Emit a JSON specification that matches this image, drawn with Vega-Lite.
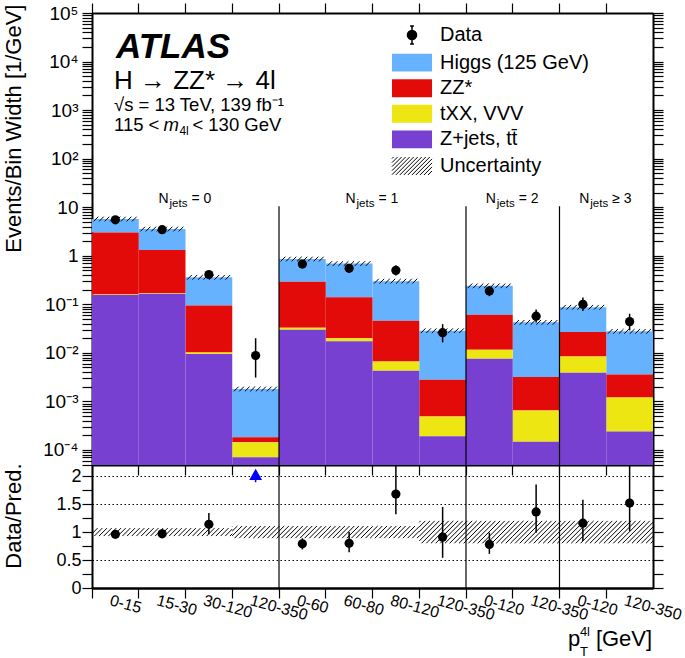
{
  "$schema": "https://vega.github.io/schema/vega-lite/v6.json",
  "padding": {"left": 2, "top": 2, "right": 0, "bottom": 0},
  "autosize": {"type": "pad"},
  "background": "white",
  "spacing": 0,
  "bounds": "flush",
  "config": {
    "font": "Liberation Sans",
    "view": {"stroke": null},
    "axis": {"domain": true, "domainColor": "black", "domainWidth": 2, "grid": false, "ticks": true, "tickColor": "black", "tickWidth": 1.2, "tickSize": 10, "labelFont": "Liberation Sans", "labelColor": "black", "titleFont": "Liberation Sans", "titleColor": "black", "titleFontWeight": "normal", "zindex": 1, "labelOverlap": false, "labelBound": false, "labelFlush": false}
  },
  "resolve": {"scale": {"color": "independent"}},
  "datasets": {
    "bins": [
      {"bin": "0-15|0", "purple": 0.155, "yellow": 0.16, "red": 3.0, "total": 5.7, "data": 5.5, "dlo": 5.25, "dhi": 5.75, "ratio": 0.96, "rlo": 0.91, "rhi": 1.01, "unc": 0.07},
      {"bin": "15-30|0", "purple": 0.165, "yellow": 0.17, "red": 1.31, "total": 3.55, "data": 3.45, "dlo": 3.2, "dhi": 3.7, "ratio": 0.97, "rlo": 0.9, "rhi": 1.05, "unc": 0.07},
      {"bin": "30-120|0", "purple": 0.0095, "yellow": 0.0102, "red": 0.094, "total": 0.36, "data": 0.41, "dlo": 0.35, "dhi": 0.48, "ratio": 1.14, "rlo": 0.96, "rhi": 1.34, "unc": 0.07},
      {"bin": "120-350|0", "purple": 0.000071, "yellow": 0.000144, "red": 0.000182, "total": 0.0018, "data": 0.0088, "dlo": 0.0031, "dhi": 0.02, "ratio": 4.9, "rlo": 1.7, "rhi": 11.1, "unc": 0.11},
      {"bin": "0-60|1", "purple": 0.03, "yellow": 0.033, "red": 0.29, "total": 0.855, "data": 0.675, "dlo": 0.59, "dhi": 0.76, "ratio": 0.79, "rlo": 0.69, "rhi": 0.89, "unc": 0.11},
      {"bin": "60-80|1", "purple": 0.0173, "yellow": 0.02, "red": 0.14, "total": 0.69, "data": 0.55, "dlo": 0.44, "dhi": 0.68, "ratio": 0.8, "rlo": 0.64, "rhi": 1.0, "unc": 0.11},
      {"bin": "80-120|1", "purple": 0.0043, "yellow": 0.0066, "red": 0.046, "total": 0.3, "data": 0.5, "dlo": 0.39, "dhi": 0.64, "ratio": 1.68, "rlo": 1.32, "rhi": 2.25, "unc": 0.11},
      {"bin": "120-350|1", "purple": 0.000192, "yellow": 0.00049, "red": 0.0028, "total": 0.0286, "data": 0.026, "dlo": 0.0164, "dhi": 0.039, "ratio": 0.91, "rlo": 0.54, "rhi": 1.45, "unc": 0.2},
      {"bin": "0-120|2", "purple": 0.0076, "yellow": 0.0116, "red": 0.061, "total": 0.24, "data": 0.188, "dlo": 0.147, "dhi": 0.238, "ratio": 0.78, "rlo": 0.61, "rhi": 0.99, "unc": 0.2},
      {"bin": "120-350|2", "purple": 0.000147, "yellow": 0.00065, "red": 0.0032, "total": 0.0425, "data": 0.057, "dlo": 0.042, "dhi": 0.078, "ratio": 1.36, "rlo": 0.99, "rhi": 1.85, "unc": 0.2},
      {"bin": "0-120|3", "purple": 0.0039, "yellow": 0.0084, "red": 0.027, "total": 0.087, "data": 0.1, "dlo": 0.073, "dhi": 0.138, "ratio": 1.16, "rlo": 0.84, "rhi": 1.58, "unc": 0.2},
      {"bin": "120-350|3", "purple": 0.00024, "yellow": 0.0012, "red": 0.0036, "total": 0.0277, "data": 0.044, "dlo": 0.029, "dhi": 0.064, "ratio": 1.52, "rlo": 1.02, "rhi": 2.3, "unc": 0.2}
    ],
    "seps": [{"bin": "0-60|1"}, {"bin": "0-120|2"}, {"bin": "0-120|3"}],
    "groups": [
      {"center": "30-120|0", "rel": "= 0"},
      {"center": "80-120|1", "rel": "= 1"},
      {"center": "120-350|2", "rel": "= 2"},
      {"center": "120-350|3", "rel": "≥ 3"}
    ]
  },
  "vconcat": [
    {
      "name": "main",
      "width": 561,
      "height": 452,
      "data": {"name": "bins"},
      "resolve": {"axis": {"x": "independent", "y": "independent"}},
      "layer": [
        {
          "mark": {"type": "bar"},
          "encoding": {
            "x": {"field": "bin", "type": "ordinal", "scale": {"domain": ["0-15|0","15-30|0","30-120|0","120-350|0","0-60|1","60-80|1","80-120|1","120-350|1","0-120|2","120-350|2","0-120|3","120-350|3"], "paddingInner": 0, "paddingOuter": 0}, "axis": {"orient": "bottom", "bandPosition": 0, "labels": false, "title": null, "encode": {"ticks": {"y2": {"value": -10}}}}},
            "y": {"field": "total", "type": "quantitative", "scale": {"type": "log", "domain": [0.000049, 100000], "nice": false},
              "axis": {"orient": "left", "values": [0.00005,0.00006,0.00007,0.00008,0.00009,0.0001,0.0002,0.0003,0.0004,0.0005,0.0006,0.0007,0.0008,0.0009,0.001,0.002,0.003,0.004,0.005,0.006,0.007,0.008,0.009,0.01,0.02,0.03,0.04,0.05,0.06,0.07,0.08,0.09,0.1,0.2,0.3,0.4,0.5,0.6,0.7,0.8,0.9,1,2,3,4,5,6,7,8,9,10,20,30,40,50,60,70,80,90,100,200,300,400,500,600,700,800,900,1000,2000,3000,4000,5000,6000,7000,8000,9000,10000,20000,30000,40000,50000,60000,70000,80000,90000,100000],
                "labelExpr": "abs(log(datum.value)/LN10 - round(log(datum.value)/LN10)) < 0.001 ? (round(log(datum.value)/LN10) == 0 ? '1' : round(log(datum.value)/LN10) == 1 ? '10' : '10' + ['⁻⁴','⁻³','⁻²','⁻¹','','','²','³','⁴','⁵'][round(log(datum.value)/LN10) + 4]) : ''",
                "labelFontSize": 19, "labelPadding": 4,
                "title": "Events/Bin Width [1/GeV]", "titleFontSize": 22, "titleAlign": "right", "titleBaseline": "middle", "titleAngle": 270, "titleX": -79, "titleY": -9,
                "encode": {"ticks": {"x2": {"condition": {"test": "abs(log(datum.value)/LN10 - round(log(datum.value)/LN10)) < 0.001", "value": 10}, "value": 5}}}}},
            "y2": {"field": "red"},
            "color": {"datum": "Higgs (125 GeV)", "type": "nominal",
              "scale": {"domain": ["Data", "Higgs (125 GeV)", "ZZ*", "tXX, VVV", "Z+jets, tt̄", "Uncertainty"], "range": ["black", "#66b2ff", "#e30a0a", "#ede613", "#7840d0", "black"]},
              "legend": {"orient": "none", "legendX": 310, "legendY": 12, "title": null, "padding": 0,
                "labelFont": "Liberation Sans", "labelFontSize": 20, "labelColor": "black", "labelLimit": 400, "labelOffset": 18, "rowPadding": 5.6, "symbolSize": 676, "symbolStrokeWidth": 1,
                "encode": {"symbols": {"update": {
                  "shape": {"signal": "datum.value == 'Data' ? 'M-0.35,0A0.35,0.35 0 1,0 0.35,0A0.35,0.35 0 1,0 -0.35,0ZM0,-0.69V0.69M-0.15,-0.69H0.15M-0.15,0.69H0.15' : datum.value == 'Uncertainty' ? 'M-1.54,-0.57L-1.42,-0.69M-1.54,-0.26L-1.11,-0.69M-1.54,0.05L-0.8,-0.69M-1.54,0.36L-0.49,-0.69M-1.54,0.67L-0.18,-0.69M-1.25,0.69L0.13,-0.69M-0.94,0.69L0.44,-0.69M-0.63,0.69L0.75,-0.69M-0.32,0.69L1.06,-0.69M-0.01,0.69L1.37,-0.69M0.3,0.69L1.54,-0.55M0.61,0.69L1.54,-0.24M0.92,0.69L1.54,0.07M1.23,0.69L1.54,0.38' : 'M-1.54,-0.69H1.54V0.69H-1.54Z'"},
                  "stroke": {"signal": "datum.value == 'Data' || datum.value == 'Uncertainty' ? 'black' : null"},
                  "strokeWidth": {"signal": "datum.value == 'Data' ? 1.5 : datum.value == 'Uncertainty' ? 1 : 0"},
                  "size": {"value": 676},
                  "opacity": {"value": 1}
                }}}}}
          }
        },
        {
          "mark": {"type": "bar"},
          "encoding": {
            "x": {"field": "bin", "type": "ordinal", "axis": {"orient": "top", "bandPosition": 0, "labels": false, "title": null, "encode": {"ticks": {"y2": {"value": 10}}}}},
            "y": {"field": "red", "type": "quantitative",
              "axis": {"orient": "right", "values": [0.00005,0.00006,0.00007,0.00008,0.00009,0.0001,0.0002,0.0003,0.0004,0.0005,0.0006,0.0007,0.0008,0.0009,0.001,0.002,0.003,0.004,0.005,0.006,0.007,0.008,0.009,0.01,0.02,0.03,0.04,0.05,0.06,0.07,0.08,0.09,0.1,0.2,0.3,0.4,0.5,0.6,0.7,0.8,0.9,1,2,3,4,5,6,7,8,9,10,20,30,40,50,60,70,80,90,100,200,300,400,500,600,700,800,900,1000,2000,3000,4000,5000,6000,7000,8000,9000,10000,20000,30000,40000,50000,60000,70000,80000,90000,100000],
                "labels": false, "title": null,
                "encode": {"ticks": {"x2": {"condition": {"test": "abs(log(datum.value)/LN10 - round(log(datum.value)/LN10)) < 0.001", "value": -10}, "value": -5}}}}},
            "y2": {"field": "yellow"},
            "color": {"datum": "ZZ*", "type": "nominal"}
          }
        },
        {
          "mark": {"type": "bar"},
          "encoding": {
            "x": {"field": "bin", "type": "ordinal", "axis": null},
            "y": {"field": "yellow", "type": "quantitative", "axis": null},
            "y2": {"field": "purple"},
            "color": {"datum": "tXX, VVV", "type": "nominal"}
          }
        },
        {
          "mark": {"type": "bar"},
          "encoding": {
            "x": {"field": "bin", "type": "ordinal", "axis": null},
            "y": {"field": "purple", "type": "quantitative", "axis": null},
            "y2": {"datum": 0.000049},
            "color": {"datum": "Z+jets, tt̄", "type": "nominal"}
          }
        },
        {
          "mark": {"type": "point", "shape": "M-0.93,0.1L-0.73,-0.1M-0.7,0.1L-0.5,-0.1M-0.46,0.1L-0.26,-0.1M-0.23,0.1L-0.03,-0.1M0.01,0.1L0.21,-0.1M0.24,0.1L0.44,-0.1M0.48,0.1L0.68,-0.1M0.71,0.1L0.91,-0.1", "size": 2186, "filled": false, "stroke": "black", "strokeWidth": 1, "opacity": 1},
          "encoding": {
            "x": {"field": "bin", "type": "ordinal", "axis": null},
            "y": {"field": "total", "type": "quantitative", "axis": null}
          }
        },
        {
          "mark": {"type": "rule", "color": "black", "strokeWidth": 1.5},
          "encoding": {
            "x": {"field": "bin", "type": "ordinal", "axis": null},
            "y": {"field": "dlo", "type": "quantitative", "axis": null},
            "y2": {"field": "dhi"}
          }
        },
        {
          "mark": {"type": "circle", "size": 85, "color": "black", "opacity": 1},
          "encoding": {
            "x": {"field": "bin", "type": "ordinal", "axis": null},
            "y": {"field": "data", "type": "quantitative", "axis": null}
          }
        },
        {
          "data": {"name": "seps"},
          "mark": {"type": "rule", "color": "black", "strokeWidth": 1.2},
          "encoding": {
            "x": {"field": "bin", "type": "ordinal", "bandPosition": 0, "axis": null},
            "y": {"datum": 10.5, "type": "quantitative", "axis": null},
            "y2": {"datum": 0.000049}
          }
        },
        {
          "data": {"name": "groups"},
          "mark": {"type": "text", "text": "N", "fontSize": 14, "align": "left", "baseline": "alphabetic", "dx": -27, "color": "black"},
          "encoding": {
            "x": {"field": "center", "type": "ordinal", "bandPosition": 0, "axis": null},
            "y": {"datum": 12.4, "type": "quantitative", "axis": null}
          }
        },
        {
          "data": {"name": "groups"},
          "mark": {"type": "text", "text": "jets", "fontSize": 11.5, "align": "left", "baseline": "alphabetic", "dx": -16, "dy": 4, "color": "black"},
          "encoding": {
            "x": {"field": "center", "type": "ordinal", "bandPosition": 0, "axis": null},
            "y": {"datum": 12.4, "type": "quantitative", "axis": null}
          }
        },
        {
          "data": {"name": "groups"},
          "mark": {"type": "text", "fontSize": 14, "align": "left", "baseline": "alphabetic", "dx": 6, "color": "black"},
          "encoding": {
            "x": {"field": "center", "type": "ordinal", "bandPosition": 0, "axis": null},
            "y": {"datum": 12.4, "type": "quantitative", "axis": null},
            "text": {"field": "rel"}
          }
        },
        {
          "data": {"values": [{}]},
          "mark": {"type": "text", "text": "ATLAS", "fontSize": 35, "fontWeight": "bold", "fontStyle": "italic", "align": "left", "baseline": "alphabetic", "dx": 0.6, "color": "black"},
          "encoding": {
            "x": {"datum": "0-15|0", "type": "ordinal", "axis": null},
            "y": {"datum": 11800, "type": "quantitative", "axis": null}
          }
        },
        {
          "data": {"values": [{}]},
          "mark": {"type": "text", "text": "H → ZZ* → 4l", "fontSize": 26, "align": "left", "baseline": "alphabetic", "dx": -1.4, "color": "black"},
          "encoding": {
            "x": {"datum": "0-15|0", "type": "ordinal", "axis": null},
            "y": {"datum": 2720, "type": "quantitative", "axis": null}
          }
        },
        {
          "data": {"values": [{}]},
          "mark": {"type": "text", "text": "√s = 13 TeV, 139 fb⁻¹", "fontSize": 18.5, "align": "left", "baseline": "alphabetic", "dx": -1.4, "color": "black"},
          "encoding": {
            "x": {"datum": "0-15|0", "type": "ordinal", "axis": null},
            "y": {"datum": 957, "type": "quantitative", "axis": null}
          }
        },
        {
          "data": {"values": [{}]},
          "mark": {"type": "text", "text": "115 <", "fontSize": 18.5, "align": "left", "baseline": "alphabetic", "dx": -1.4, "color": "black"},
          "encoding": {
            "x": {"datum": "0-15|0", "type": "ordinal", "axis": null},
            "y": {"datum": 371, "type": "quantitative", "axis": null}
          }
        },
        {
          "data": {"values": [{}]},
          "mark": {"type": "text", "text": "m", "fontSize": 18.5, "fontStyle": "italic", "align": "left", "baseline": "alphabetic", "dx": 48, "color": "black"},
          "encoding": {
            "x": {"datum": "0-15|0", "type": "ordinal", "axis": null},
            "y": {"datum": 371, "type": "quantitative", "axis": null}
          }
        },
        {
          "data": {"values": [{}]},
          "mark": {"type": "text", "text": "4l", "fontSize": 12, "align": "left", "baseline": "alphabetic", "dx": 64, "dy": 4, "color": "black"},
          "encoding": {
            "x": {"datum": "0-15|0", "type": "ordinal", "axis": null},
            "y": {"datum": 371, "type": "quantitative", "axis": null}
          }
        },
        {
          "data": {"values": [{}]},
          "mark": {"type": "text", "text": "< 130 GeV", "fontSize": 18.5, "align": "left", "baseline": "alphabetic", "dx": 77, "color": "black"},
          "encoding": {
            "x": {"datum": "0-15|0", "type": "ordinal", "axis": null},
            "y": {"datum": 371, "type": "quantitative", "axis": null}
          }
        }
      ]
    },
    {
      "name": "ratio",
      "width": 561,
      "height": 123,
      "data": {"name": "bins"},
      "resolve": {"axis": {"x": "independent", "y": "independent"}},
      "layer": [
        {
          "mark": {"type": "point", "size": 2186, "filled": false, "stroke": "black", "strokeWidth": 1, "opacity": 1},
          "encoding": {
            "x": {"field": "bin", "type": "ordinal", "scale": {"domain": ["0-15|0","15-30|0","30-120|0","120-350|0","0-60|1","60-80|1","80-120|1","120-350|1","0-120|2","120-350|2","0-120|3","120-350|3"], "paddingInner": 0, "paddingOuter": 0}, "axis": {"orient": "bottom", "bandPosition": 0, "labels": false, "title": null, "encode": {"ticks": {"y2": {"value": -6}}}}},
            "y": {"datum": 1, "type": "quantitative", "scale": {"domain": [0, 2.2], "nice": false, "zero": false},
              "axis": {"orient": "left", "values": [0, 0.25, 0.5, 0.75, 1, 1.25, 1.5, 1.75, 2],
                "labelExpr": "datum.value == 0 ? '0' : datum.value == 0.5 ? '0.5' : datum.value == 1 ? '1' : datum.value == 1.5 ? '1.5' : datum.value == 2 ? '2' : ''",
                "labelFontSize": 18, "labelPadding": 1,
                "grid": true, "gridColor": "black", "gridDash": [1.5, 2.5], "gridWidth": 1,
                "gridOpacity": {"condition": {"test": "datum.value == 0.5 || datum.value == 1.5 || datum.value == 2", "value": 1}, "value": 0},
                "title": "Data/Pred.", "titleFontSize": 22, "titleAlign": "right", "titleBaseline": "middle", "titleAngle": 270, "titleX": -79, "titleY": -2,
                "encode": {"ticks": {"x2": {"condition": {"test": "datum.value * 2 == round(datum.value * 2)", "value": 10}, "value": 5}}}}},
            "shape": {"field": "unc", "type": "ordinal", "legend": null,
              "scale": {"domain": [0.07, 0.11, 0.2], "range": [
                "M-1,-0.13L-0.96,-0.17M-1,0.07L-0.76,-0.17M-0.9,0.17L-0.56,-0.17M-0.7,0.17L-0.36,-0.17M-0.5,0.17L-0.16,-0.17M-0.3,0.17L0.04,-0.17M-0.1,0.17L0.24,-0.17M0.1,0.17L0.44,-0.17M0.3,0.17L0.64,-0.17M0.5,0.17L0.84,-0.17M0.7,0.17L1,-0.13M0.9,0.17L1,0.07",
                "M-1,-0.24L-0.98,-0.26M-1,-0.04L-0.78,-0.26M-1,0.16L-0.58,-0.26M-0.9,0.26L-0.38,-0.26M-0.7,0.26L-0.18,-0.26M-0.5,0.26L0.02,-0.26M-0.3,0.26L0.22,-0.26M-0.1,0.26L0.42,-0.26M0.1,0.26L0.62,-0.26M0.3,0.26L0.82,-0.26M0.5,0.26L1,-0.24M0.7,0.26L1,-0.04M0.9,0.26L1,0.16",
                "M-1,-0.42L-0.94,-0.48M-1,-0.22L-0.74,-0.48M-1,-0.02L-0.54,-0.48M-1,0.18L-0.34,-0.48M-1,0.38L-0.14,-0.48M-0.9,0.48L0.06,-0.48M-0.7,0.48L0.26,-0.48M-0.5,0.48L0.46,-0.48M-0.3,0.48L0.66,-0.48M-0.1,0.48L0.86,-0.48M0.1,0.48L1,-0.42M0.3,0.48L1,-0.22M0.5,0.48L1,-0.02M0.7,0.48L1,0.18M0.9,0.48L1,0.38"
              ]}}
          }
        },
        {
          "data": {"name": "seps"},
          "mark": {"type": "rule", "color": "black", "strokeWidth": 1.2},
          "encoding": {
            "x": {"field": "bin", "type": "ordinal", "bandPosition": 0,
              "axis": {"orient": "bottom", "ticks": false, "tickSize": 0, "title": null, "labelExpr": "slice(datum.value, 0, indexof(datum.value, '|'))", "labelAngle": 15, "labelAlign": "left", "labelBaseline": "top", "labelPadding": 4, "labelFontSize": 16, "labelOffset": -3}},
            "y": {"datum": 0, "type": "quantitative",
              "axis": {"orient": "right", "values": [0, 0.25, 0.5, 0.75, 1, 1.25, 1.5, 1.75, 2], "labels": false, "title": null,
                "encode": {"ticks": {"x2": {"condition": {"test": "datum.value * 2 == round(datum.value * 2)", "value": -10}, "value": -5}}}}},
            "y2": {"datum": 2.2}
          }
        },
        {
          "transform": [{"filter": "datum.ratio <= 2.2"}],
          "mark": {"type": "rule", "color": "black", "strokeWidth": 1.5, "clip": true},
          "encoding": {
            "x": {"field": "bin", "type": "ordinal", "axis": null},
            "y": {"field": "rlo", "type": "quantitative", "axis": null},
            "y2": {"field": "rhi"}
          }
        },
        {
          "transform": [{"filter": "datum.ratio <= 2.2"}],
          "mark": {"type": "circle", "size": 85, "color": "black", "opacity": 1},
          "encoding": {
            "x": {"field": "bin", "type": "ordinal", "axis": null},
            "y": {"field": "ratio", "type": "quantitative", "axis": null}
          }
        },
        {
          "transform": [{"filter": "datum.ratio > 2.2"}],
          "mark": {"type": "point", "shape": "M0,-1L0.85,0.5L-0.85,0.5ZM0,0.5V1", "size": 144, "filled": true, "color": "#0000ff", "stroke": "#0000ff", "strokeWidth": 1.5, "opacity": 1},
          "encoding": {
            "x": {"field": "bin", "type": "ordinal", "axis": null},
            "y": {"datum": 2, "type": "quantitative", "axis": null}
          }
        },
        {
          "data": {"values": [{}]},
          "mark": {"type": "text", "text": "p", "fontSize": 22, "align": "left", "baseline": "alphabetic", "dx": -15, "color": "black"},
          "encoding": {
            "x": {"datum": "0-120|3", "type": "ordinal", "axis": null},
            "y": {"datum": -1.036, "type": "quantitative", "axis": null}
          }
        },
        {
          "data": {"values": [{}]},
          "mark": {"type": "text", "text": "4l", "fontSize": 13, "align": "left", "baseline": "alphabetic", "dx": -3, "dy": -10, "color": "black"},
          "encoding": {
            "x": {"datum": "0-120|3", "type": "ordinal", "axis": null},
            "y": {"datum": -1.036, "type": "quantitative", "axis": null}
          }
        },
        {
          "data": {"values": [{}]},
          "mark": {"type": "text", "text": "T", "fontSize": 13, "align": "left", "baseline": "alphabetic", "dx": -3, "dy": 10, "color": "black"},
          "encoding": {
            "x": {"datum": "0-120|3", "type": "ordinal", "axis": null},
            "y": {"datum": -1.036, "type": "quantitative", "axis": null}
          }
        },
        {
          "data": {"values": [{}]},
          "mark": {"type": "text", "text": "[GeV]", "fontSize": 22, "align": "left", "baseline": "alphabetic", "dx": 13, "color": "black"},
          "encoding": {
            "x": {"datum": "0-120|3", "type": "ordinal", "axis": null},
            "y": {"datum": -1.036, "type": "quantitative", "axis": null}
          }
        }
      ]
    }
  ]
}
